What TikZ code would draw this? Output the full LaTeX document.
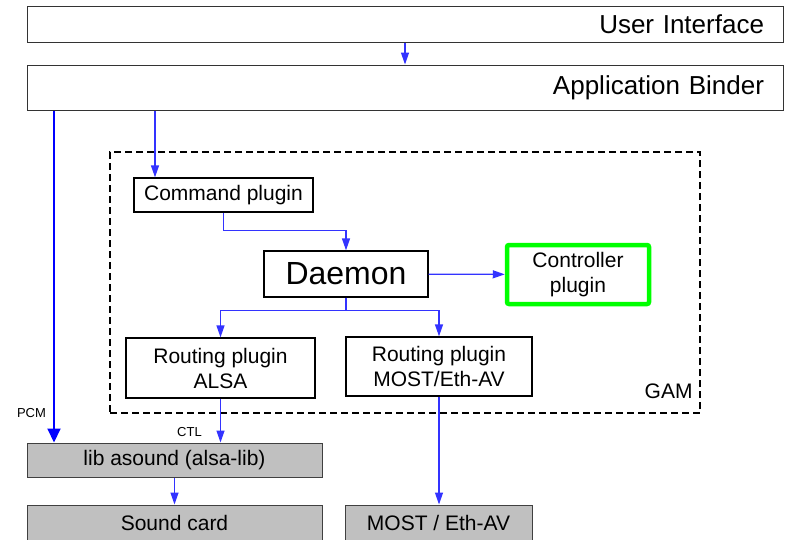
\documentclass[tikz,border=0pt]{standalone}
\usepackage{fontspec}
\setmainfont{Liberation Sans}
\usetikzlibrary{arrows.meta, calc, positioning}
\definecolor{linkblue}{RGB}{51,51,255}
\definecolor{boxgray}{RGB}{192,192,192}
\definecolor{ctrlgreen}{RGB}{0,255,0}
\tikzset{%
    edge/.style={%
        draw=linkblue, line width=1.3pt,
        -{Triangle[length=12pt, width=8pt]},
    },
    pcmedge/.style={%
        draw=blue, line width=2pt,
        -{Triangle[length=14pt, width=13pt]},
    },
    barbox/.style={%
        rectangle,
        draw=black!80, line width=1pt,
        inner xsep=19pt, inner ysep=0pt,
        text width=718pt,
        align=right,
        font=\fontsize{26}{30}\selectfont,
    },
    plugin/.style={%
        rectangle,
        draw=black, line width=1.3pt,
        inner sep=0pt,
        align=center,
        font=\fontsize{21}{25}\selectfont,
    },
    hwbox/.style={%
        rectangle,
        fill=boxgray,
        draw=black!75, line width=1pt,
        inner sep=0pt,
        font=\fontsize{21}{25}\selectfont,
    },
    gambox/.style={%
        rectangle,
        draw=black, line width=1.5pt,
        dash pattern=on 7pt off 4pt,
        inner sep=0pt,
    },
    tag/.style={%
        inner sep=0pt,
        font=\fontsize{13}{15}\selectfont,
    },
}
\begin{document}
\begin{tikzpicture}[x=1pt, y=-1pt]
	\useasboundingbox (0,0) rectangle (787,539);
	\coordinate (pcmx) at (54,0);
	\coordinate (cmdx) at (155,0);

	\node [gambox, minimum width=590pt, minimum height=261pt] at (405,282.5) (gam) {};
	\node [tag, font=\fontsize{21}{25}\selectfont, anchor=base east] at ($(gam.south east)+(-8,-15)$) (gamtag) {GAM};

	\node [barbox, minimum height=36pt] at (405,24) (ui) {User Interface};
	\node [barbox, minimum height=45pt] at (405,87.5) (binder) {Application Binder};

	\node [plugin, minimum width=179pt, minimum height=34pt] at (223.5,195) (cmd) {Command plugin};
	\node [plugin, minimum width=164pt, minimum height=46pt, font=\fontsize{32}{38}\selectfont] at (346,274) (daemon) {Daemon};
	\node [plugin, draw=ctrlgreen, line width=4.5pt, rounded corners=2pt, minimum width=142pt, minimum height=59pt] at (578,274.5) (ctrl) {Controller\\plugin};
	\node [plugin, minimum width=189pt, minimum height=60pt] at (220.5,368) (alsa) {Routing plugin\\ALSA};
	\node [plugin, minimum width=186pt, minimum height=59pt] at (439,366.5) (most) {Routing plugin\\MOST/Eth-AV};

	\node [hwbox, minimum width=295pt, minimum height=34pt] at (174.5,460) (lib) {lib asound (alsa-lib)};
	\node [hwbox, minimum width=295pt, minimum height=35pt] at (174.5,522.5) (sound) {Sound card};
	\node [hwbox, minimum width=187pt, minimum height=35pt] at (438.5,522.5) (mostav) {MOST / Eth-AV};

	\node [tag] at (31.5,413) (pcm) {PCM};
	\node [tag] at (189.5,432) (ctl) {CTL};

	\draw[edge] (ui) -- (binder);
	\draw[pcmedge] (binder.south -| pcmx) -- (lib.north -| pcmx);
	\draw[edge] (binder.south -| cmdx) -- (cmd.north -| cmdx);
	\draw[edge] (cmd.south) -- ++(0,18) -| (daemon.north);
	\draw[edge] (daemon) -- (ctrl);
	\draw[edge] (daemon.south) -- ++(0,13) -| (alsa.north);
	\draw[edge] (daemon.south) -- ++(0,13) -| (most.north);
	\draw[edge] (alsa.south) -- (alsa.south |- lib.north);
	\draw[edge] (most.south) -- (most.south |- mostav.north);
	\draw[edge] (lib) -- (sound);
\end{tikzpicture}
\end{document}
